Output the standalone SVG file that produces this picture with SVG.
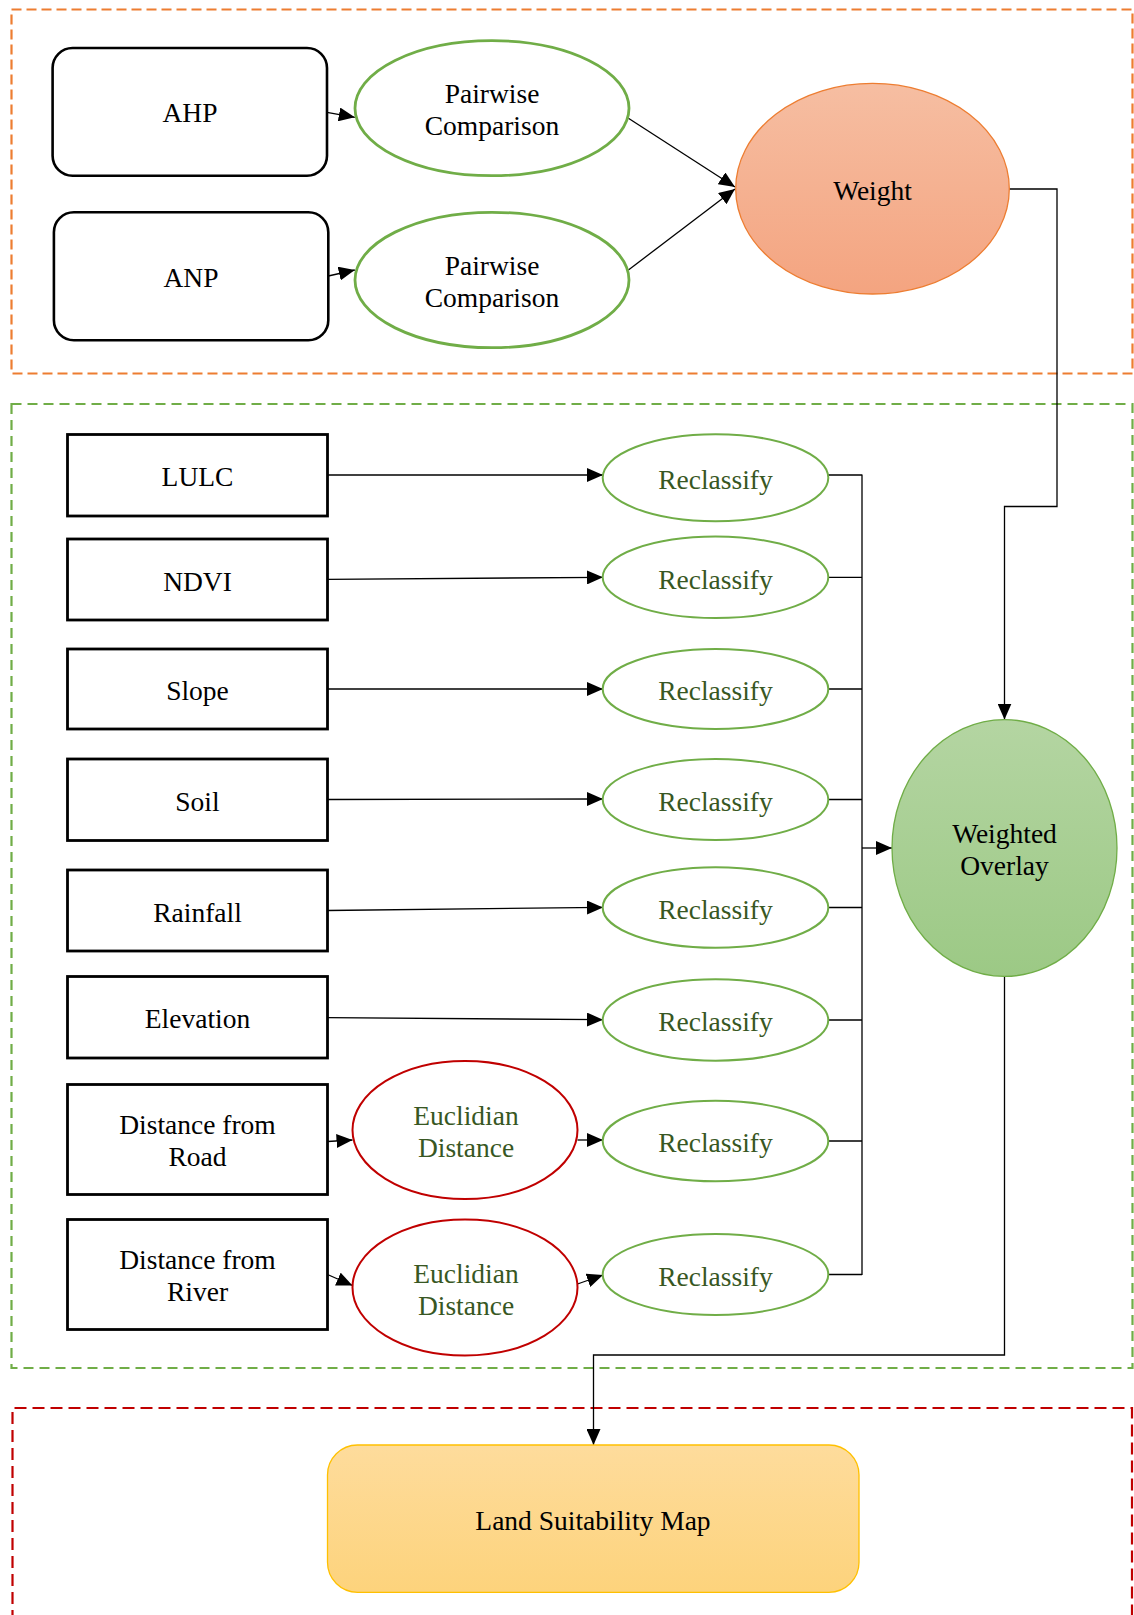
<svg xmlns="http://www.w3.org/2000/svg" width="1134" height="1615" viewBox="0 0 1134 1615">
  <style>
    text { font-family: "Liberation Serif", "Times New Roman", serif; font-size: 27.5px; text-anchor: middle; fill: #000; }
    .gtxt { fill: #385723; }
    .frame { fill: none; stroke-width: 2.2; }
    .method { fill: #fff; stroke: #000; stroke-width: 2.6; }
    .layer { fill: #fff; stroke: #000; stroke-width: 2.8; }
    .pair { fill: #fff; stroke: #70AD47; stroke-width: 2.8; }
    .recl { fill: #fff; stroke: #70AD47; stroke-width: 2; }
    .eucl { fill: #fff; stroke: #C00000; stroke-width: 2; }
    .conn { fill: none; stroke: #000; stroke-width: 1.3; }
    .arr { marker-end: url(#head); }
  </style>
  <defs>
    <marker id="head" markerUnits="userSpaceOnUse" markerWidth="16" markerHeight="14" refX="16" refY="7" orient="auto">
      <path d="M0,0 L16,7 L0,14 Z" fill="#000"/>
    </marker>
    <linearGradient id="gWeight" x1="0" y1="0" x2="0" y2="1">
      <stop offset="0" stop-color="#F6BEA2"/>
      <stop offset="1" stop-color="#F4A480"/>
    </linearGradient>
    <linearGradient id="gOverlay" x1="0" y1="0" x2="0" y2="1">
      <stop offset="0" stop-color="#B4D5A2"/>
      <stop offset="1" stop-color="#9CC985"/>
    </linearGradient>
    <linearGradient id="gMap" x1="0" y1="0" x2="0" y2="1">
      <stop offset="0" stop-color="#FEDC9C"/>
      <stop offset="1" stop-color="#FDD37C"/>
    </linearGradient>
  </defs>

  <!-- stage frames -->
  <g id="frames">
    <rect class="frame" x="11.5" y="9.5" width="1121" height="364" stroke="#ED7D31" stroke-dasharray="10 5"/>
    <rect class="frame" x="11.5" y="404" width="1121" height="964" stroke="#70AD47" stroke-dasharray="10 6"/>
    <path class="frame" d="M12.5,1640 V1408 H1132 V1640" stroke="#C00000" stroke-dasharray="12 6"/>
  </g>

  <!-- connectors -->
  <g id="connectors">
    <path class="conn arr" d="M327,112.3 L354.8,117.3"/>
    <path class="conn arr" d="M328.3,276 L354.8,270"/>
    <path class="conn arr" d="M628.4,118.3 L735,187"/>
    <path class="conn arr" d="M628.4,270 L735,189"/>
    <path class="conn arr" d="M1009,189 H1057 V506.5 H1004.5 V719.5"/>

    <path class="conn arr" d="M327.5,475 L603,475"/>
    <path class="conn arr" d="M327.5,579.3 L603,577.3"/>
    <path class="conn arr" d="M327.5,689 L603,689"/>
    <path class="conn arr" d="M327.5,799.5 L603,799"/>
    <path class="conn arr" d="M327.5,910.5 L603,907.4"/>
    <path class="conn arr" d="M327.5,1017.6 L603,1019.7"/>
    <path class="conn arr" d="M327.5,1141.5 L352.5,1140"/>
    <path class="conn arr" d="M577.5,1140 L603,1140"/>
    <path class="conn arr" d="M327.5,1274.5 L352.5,1285.5"/>
    <path class="conn arr" d="M577.5,1284 L603,1275"/>

    <path class="conn" d="M828,475 H862 M828,577.3 H862 M828,689 H862 M828,799.5 H862 M828,907.5 H862 M828,1020 H862 M828,1141 H862 M828,1274.5 H862 M862,474.5 V1275"/>
    <path class="conn arr" d="M862,848 H892"/>
    <path class="conn arr" d="M1004.5,976.5 V1355 H593.5 V1445"/>
  </g>

  <!-- weighting stage -->
  <g id="ahp">
    <rect class="method" x="52.6" y="48" width="274.4" height="127.7" rx="20"/>
    <text x="190" y="122">AHP</text>
  </g>
  <g id="anp">
    <rect class="method" x="53.9" y="212.3" width="274.4" height="128" rx="20"/>
    <text x="191" y="287">ANP</text>
  </g>
  <g id="pairwise-ahp">
    <ellipse class="pair" cx="492" cy="108.2" rx="137" ry="67.5"/>
    <text x="492" y="103">Pairwise</text>
    <text x="492" y="135">Comparison</text>
  </g>
  <g id="pairwise-anp">
    <ellipse class="pair" cx="492" cy="280" rx="137" ry="67.7"/>
    <text x="492" y="274.5">Pairwise</text>
    <text x="492" y="306.5">Comparison</text>
  </g>
  <g id="weight">
    <ellipse cx="872.5" cy="188.7" rx="136.8" ry="105.3" fill="url(#gWeight)" stroke="#ED7D31" stroke-width="1.3"/>
    <text x="872.5" y="200">Weight</text>
  </g>

  <!-- criteria layers -->
  <g id="lulc">
    <rect class="layer" x="67.5" y="434.5" width="260" height="81.5"/>
    <text x="197.5" y="486">LULC</text>
  </g>
  <g id="ndvi">
    <rect class="layer" x="67.5" y="539" width="260" height="81"/>
    <text x="197.5" y="590.5">NDVI</text>
  </g>
  <g id="slope">
    <rect class="layer" x="67.5" y="649" width="260" height="80"/>
    <text x="197.5" y="700">Slope</text>
  </g>
  <g id="soil">
    <rect class="layer" x="67.5" y="759" width="260" height="81.5"/>
    <text x="197.5" y="811">Soil</text>
  </g>
  <g id="rainfall">
    <rect class="layer" x="67.5" y="870" width="260" height="81"/>
    <text x="197.5" y="921.5">Rainfall</text>
  </g>
  <g id="elevation">
    <rect class="layer" x="67.5" y="976.5" width="260" height="81.5"/>
    <text x="197.5" y="1028">Elevation</text>
  </g>
  <g id="dist-road">
    <rect class="layer" x="67.5" y="1084.5" width="260" height="110"/>
    <text x="197.5" y="1134">Distance from</text>
    <text x="197.5" y="1166">Road</text>
  </g>
  <g id="dist-river">
    <rect class="layer" x="67.5" y="1219.5" width="260" height="110"/>
    <text x="197.5" y="1269">Distance from</text>
    <text x="197.5" y="1301">River</text>
  </g>

  <!-- distance rasters -->
  <g id="euclid-road">
    <ellipse class="eucl" cx="465" cy="1130" rx="112.5" ry="69"/>
    <text class="gtxt" x="466" y="1124.5">Euclidian</text>
    <text class="gtxt" x="466" y="1157">Distance</text>
  </g>
  <g id="euclid-river">
    <ellipse class="eucl" cx="465" cy="1287.5" rx="112.5" ry="68"/>
    <text class="gtxt" x="466" y="1282.5">Euclidian</text>
    <text class="gtxt" x="466" y="1315">Distance</text>
  </g>

  <!-- reclassification -->
  <g id="reclass-lulc">
    <ellipse class="recl" cx="715.5" cy="477.8" rx="112.8" ry="43.5"/>
    <text class="gtxt" x="715.5" y="489">Reclassify</text>
  </g>
  <g id="reclass-ndvi">
    <ellipse class="recl" cx="715.5" cy="577.3" rx="112.8" ry="40.7"/>
    <text class="gtxt" x="715.5" y="588.5">Reclassify</text>
  </g>
  <g id="reclass-slope">
    <ellipse class="recl" cx="715.5" cy="689" rx="112.8" ry="40"/>
    <text class="gtxt" x="715.5" y="700">Reclassify</text>
  </g>
  <g id="reclass-soil">
    <ellipse class="recl" cx="715.5" cy="799.5" rx="112.8" ry="40.5"/>
    <text class="gtxt" x="715.5" y="810.5">Reclassify</text>
  </g>
  <g id="reclass-rainfall">
    <ellipse class="recl" cx="715.5" cy="907.5" rx="112.8" ry="40.3"/>
    <text class="gtxt" x="715.5" y="918.5">Reclassify</text>
  </g>
  <g id="reclass-elevation">
    <ellipse class="recl" cx="715.5" cy="1020" rx="112.8" ry="40.7"/>
    <text class="gtxt" x="715.5" y="1031">Reclassify</text>
  </g>
  <g id="reclass-road">
    <ellipse class="recl" cx="715.5" cy="1141" rx="112.8" ry="40.3"/>
    <text class="gtxt" x="715.5" y="1152">Reclassify</text>
  </g>
  <g id="reclass-river">
    <ellipse class="recl" cx="715.5" cy="1274.5" rx="112.8" ry="40.5"/>
    <text class="gtxt" x="715.5" y="1285.5">Reclassify</text>
  </g>

  <!-- overlay and result -->
  <g id="weighted-overlay">
    <ellipse cx="1004.5" cy="848" rx="112.5" ry="128.4" fill="url(#gOverlay)" stroke="#70AD47" stroke-width="1.3"/>
    <text x="1004.5" y="843">Weighted</text>
    <text x="1004.5" y="875">Overlay</text>
  </g>
  <g id="land-suitability-map">
    <rect x="327.5" y="1445" width="531.5" height="147.3" rx="30" fill="url(#gMap)" stroke="#FFC000" stroke-width="1.3"/>
    <text x="593" y="1530">Land Suitability Map</text>
  </g>
</svg>
